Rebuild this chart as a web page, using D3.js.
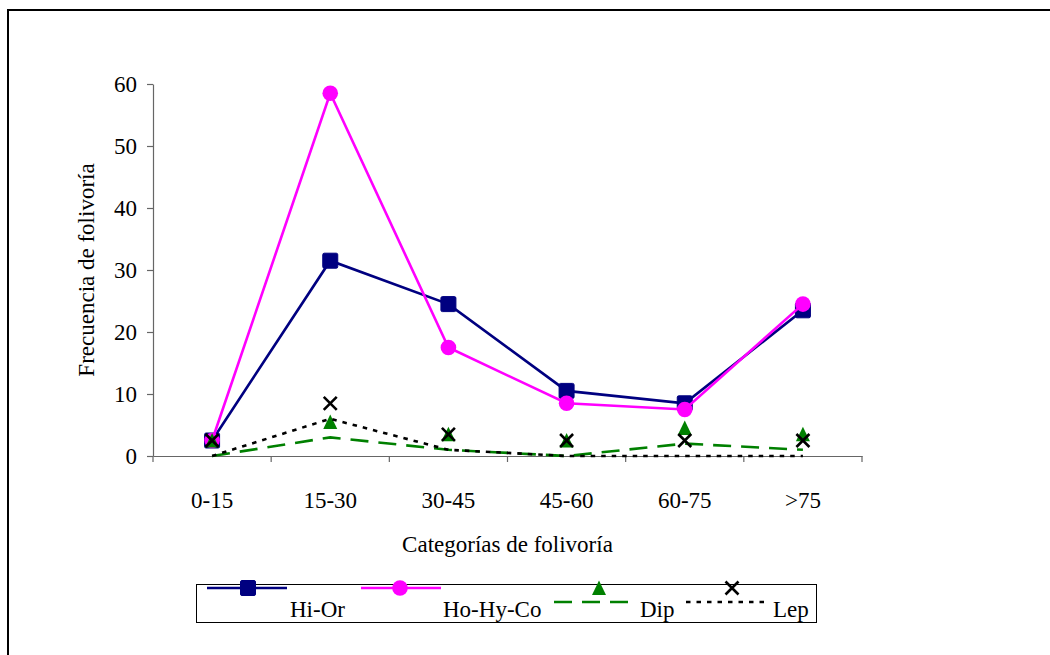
<!DOCTYPE html>
<html>
<head>
<meta charset="utf-8">
<script src="https://cdn.jsdelivr.net/npm/d3@7"></script>
<style>
  html, body { margin: 0; padding: 0; background: #fff; }
  svg { display: block; font-family: "Liberation Serif", "Times New Roman", serif; }
</style>
</head>
<body>
<svg id="chart" width="1050" height="655"></svg>
<script>
// Categories of foliar damage (x axis)
const categories = ["0-15", "15-30", "30-45", "45-60", "60-75", ">75"];
const yTicks = [0, 10, 20, 30, 40, 50, 60];

// Herbivory frequency per insect group
const hiOr = [2.5, 31.5, 24.5, 10.5, 8.5, 23.5];
const hoHyCo = [2.5, 58.5, 17.5, 8.5, 7.5, 24.5];
// Diptera and Lepidoptera: line values and their marker positions
const dipLine = [0, 3, 1, 0, 2, 1];
const dipMarks = [2.5, 5.5, 3.5, 2.5, 4.5, 3.5];
const lepLine = [0, 6, 1, 0, 0, 0];
const lepMarks = [2.5, 8.5, 3.5, 2.5, 2.5, 2.5];

const seriesNames = ["Hi-Or", "Ho-Hy-Co", "Dip", "Lep"];

const svg = d3.select("#chart");
const FONT = 23;

// Outer chart frame (left and top edges visible)
svg.append("rect")
  .attr("x", 8).attr("y", 10)
  .attr("width", 1100).attr("height", 700)
  .attr("fill", "none").attr("stroke", "#000").attr("stroke-width", 2);

const x = d3.scaleBand().domain(categories).range([153, 862]).padding(0);
const y = d3.scaleLinear().domain([0, 60]).range([456, 84]);
const cx = d => x(d) + x.bandwidth() / 2;

// Y axis
const yAxis = svg.append("g")
  .attr("transform", `translate(${x.range()[0]},0)`)
  .call(d3.axisLeft(y).tickValues(yTicks).tickSize(6).tickPadding(10).tickSizeOuter(0));
yAxis.select(".domain").attr("stroke", "#666").attr("stroke-width", 1.2);
yAxis.selectAll(".tick line").attr("stroke", "#666").attr("stroke-width", 1.2);
yAxis.selectAll(".tick text")
  .attr("font-family", "Liberation Serif").attr("font-size", FONT).attr("fill", "#000");

// X axis with ticks at category boundaries
const xAxis = svg.append("g")
  .attr("transform", `translate(0,${y(0)})`)
  .call(d3.axisBottom(x).tickSize(0).tickPadding(36));
xAxis.select(".domain").attr("stroke", "#666").attr("stroke-width", 1.2);
xAxis.selectAll(".tick text")
  .attr("font-family", "Liberation Serif").attr("font-size", FONT).attr("fill", "#000");
const boundaries = categories.map(c => x(c)).concat([x.range()[1]]);
xAxis.selectAll(".bound").data(boundaries).enter().append("line")
  .attr("class", "bound")
  .attr("x1", d => d).attr("x2", d => d)
  .attr("y1", 0).attr("y2", 6)
  .attr("stroke", "#666").attr("stroke-width", 1.2);

// Axis titles
svg.append("text")
  .attr("x", (x.range()[0] + x.range()[1]) / 2).attr("y", 552)
  .attr("text-anchor", "middle").attr("font-size", FONT)
  .text("Categorías de folivoría");
svg.append("text")
  .attr("transform", `translate(94,${(y(0) + y(60)) / 2}) rotate(-90)`)
  .attr("text-anchor", "middle").attr("font-size", FONT)
  .text("Frecuencia de folivoría");

// Marker drawers
function square(g, px, py, color) {
  g.append("rect").attr("x", px - 7.5).attr("y", py - 7.5)
    .attr("width", 15).attr("height", 15).attr("rx", 1.5)
    .attr("fill", color).attr("stroke", color).attr("stroke-width", 1);
}
function circle(g, px, py, color) {
  g.append("circle").attr("cx", px).attr("cy", py).attr("r", 7.8).attr("fill", color);
}
function triangle(g, px, py, color) {
  g.append("path")
    .attr("d", `M${px},${py - 7.5}L${px + 7},${py + 7}L${px - 7},${py + 7}Z`)
    .attr("fill", color);
}
function cross(g, px, py, color) {
  const s = 6.5;
  g.append("path")
    .attr("d", `M${px - s},${py - s}L${px + s},${py + s}M${px - s},${py + s}L${px + s},${py - s}`)
    .attr("stroke", color).attr("stroke-width", 2.6).attr("fill", "none");
}

const series = [
  { name: seriesNames[0], line: hiOr, marks: hiOr, color: "#000080", dash: null, marker: square },
  { name: seriesNames[1], line: hoHyCo, marks: hoHyCo, color: "#FF00FF", dash: null, marker: circle },
  { name: seriesNames[2], line: dipLine, marks: dipMarks, color: "#008000", dash: "18,10", marker: triangle },
  { name: seriesNames[3], line: lepLine, marks: lepMarks, color: "#000000", dash: "4.5,6", marker: cross }
];

const lineGen = d3.line().x((d, i) => cx(categories[i])).y(d => y(d));

const plot = svg.append("g");
series.forEach(s => {
  const g = plot.append("g");
  g.append("path")
    .attr("d", lineGen(s.line))
    .attr("fill", "none").attr("stroke", s.color).attr("stroke-width", 2.6)
    .attr("stroke-dasharray", s.dash);
  s.marks.forEach((v, i) => s.marker(g, cx(categories[i]), y(v), s.color));
});

// Legend
const lg = svg.append("g");
lg.append("rect").attr("x", 196.5).attr("y", 584.5).attr("width", 620).attr("height", 38)
  .attr("fill", "#fff").attr("stroke", "#000").attr("stroke-width", 1);

const legendItems = [
  { s: series[0], x1: 207, x2: 287, ly: 588, mx: 248, tx: 290 },
  { s: series[1], x1: 361, x2: 441, ly: 588, mx: 400, tx: 443 },
  { s: series[2], x1: 554, x2: 628, ly: 602, mx: 599, tx: 640 },
  { s: series[3], x1: 686, x2: 769, ly: 602, mx: 732, tx: 773 }
];
legendItems.forEach(it => {
  lg.append("line").attr("x1", it.x1).attr("x2", it.x2).attr("y1", it.ly).attr("y2", it.ly)
    .attr("stroke", it.s.color).attr("stroke-width", 2.6).attr("stroke-dasharray", it.s.dash);
  it.s.marker(lg, it.mx, 588, it.s.color);
  lg.append("text").attr("x", it.tx).attr("y", 617).attr("font-size", FONT).text(it.s.name);
});
</script>
</body>
</html>
